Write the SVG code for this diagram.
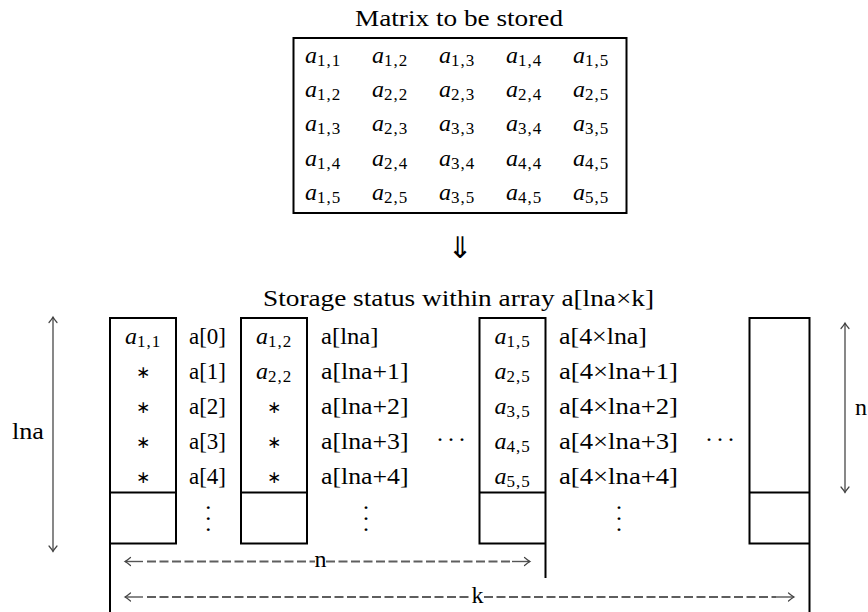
<svg xmlns="http://www.w3.org/2000/svg" width="868" height="612" viewBox="0 0 868 612">
  <defs>
    <style>
      text { font-family: "Liberation Serif", "DejaVu Serif", serif; font-size: 24px; fill: #000; }
      .mi { font-style: italic; }
      .sub { font-size: 17px; letter-spacing: 1px; }
      .mid { text-anchor: middle; }
      .arrowsym { font-family: "DejaVu Sans", sans-serif; font-size: 30px; }
      .ast { font-family: "DejaVu Sans", sans-serif; font-size: 17px; }
      .box { fill: none; stroke: #000; stroke-width: 2; }
      .edge { fill: none; stroke: #000; stroke-width: 2; }
      .dim { fill: none; stroke: #555; stroke-width: 1.4; }
      .dash { fill: none; stroke: #5e5e5e; stroke-width: 1.8; stroke-dasharray: 9 3.5; }
      .tip { fill: none; stroke: #444; stroke-width: 1.2; stroke-linecap: round; stroke-dasharray: none; }
    </style>
    <marker id="tip" markerUnits="userSpaceOnUse" markerWidth="12" markerHeight="12" viewBox="-7 -6 8 12" refX="0" refY="0" orient="auto-start-reverse" overflow="visible">
      <path class="tip" d="M -5.5 -4 Q -2 -1 0 0 Q -2 1 -5.5 4"/>
    </marker>
  </defs>

  <!-- Symmetric matrix -->
  <g id="matrix">
    <text class="mid" x="459" y="26" textLength="208" lengthAdjust="spacingAndGlyphs">Matrix to be stored</text>
    <rect class="box" x="293.5" y="38" width="333" height="175"/>
    <g id="matrix-row1">
      <text x="305" y="63"><tspan class="mi">a</tspan><tspan class="sub" dy="3">1,1</tspan></text>
      <text x="372" y="63"><tspan class="mi">a</tspan><tspan class="sub" dy="3">1,2</tspan></text>
      <text x="439" y="63"><tspan class="mi">a</tspan><tspan class="sub" dy="3">1,3</tspan></text>
      <text x="506" y="63"><tspan class="mi">a</tspan><tspan class="sub" dy="3">1,4</tspan></text>
      <text x="573" y="63"><tspan class="mi">a</tspan><tspan class="sub" dy="3">1,5</tspan></text>
    </g>
    <g id="matrix-row2">
      <text x="305" y="97.2"><tspan class="mi">a</tspan><tspan class="sub" dy="3">1,2</tspan></text>
      <text x="372" y="97.2"><tspan class="mi">a</tspan><tspan class="sub" dy="3">2,2</tspan></text>
      <text x="439" y="97.2"><tspan class="mi">a</tspan><tspan class="sub" dy="3">2,3</tspan></text>
      <text x="506" y="97.2"><tspan class="mi">a</tspan><tspan class="sub" dy="3">2,4</tspan></text>
      <text x="573" y="97.2"><tspan class="mi">a</tspan><tspan class="sub" dy="3">2,5</tspan></text>
    </g>
    <g id="matrix-row3">
      <text x="305" y="131.4"><tspan class="mi">a</tspan><tspan class="sub" dy="3">1,3</tspan></text>
      <text x="372" y="131.4"><tspan class="mi">a</tspan><tspan class="sub" dy="3">2,3</tspan></text>
      <text x="439" y="131.4"><tspan class="mi">a</tspan><tspan class="sub" dy="3">3,3</tspan></text>
      <text x="506" y="131.4"><tspan class="mi">a</tspan><tspan class="sub" dy="3">3,4</tspan></text>
      <text x="573" y="131.4"><tspan class="mi">a</tspan><tspan class="sub" dy="3">3,5</tspan></text>
    </g>
    <g id="matrix-row4">
      <text x="305" y="165.6"><tspan class="mi">a</tspan><tspan class="sub" dy="3">1,4</tspan></text>
      <text x="372" y="165.6"><tspan class="mi">a</tspan><tspan class="sub" dy="3">2,4</tspan></text>
      <text x="439" y="165.6"><tspan class="mi">a</tspan><tspan class="sub" dy="3">3,4</tspan></text>
      <text x="506" y="165.6"><tspan class="mi">a</tspan><tspan class="sub" dy="3">4,4</tspan></text>
      <text x="573" y="165.6"><tspan class="mi">a</tspan><tspan class="sub" dy="3">4,5</tspan></text>
    </g>
    <g id="matrix-row5">
      <text x="305" y="199.8"><tspan class="mi">a</tspan><tspan class="sub" dy="3">1,5</tspan></text>
      <text x="372" y="199.8"><tspan class="mi">a</tspan><tspan class="sub" dy="3">2,5</tspan></text>
      <text x="439" y="199.8"><tspan class="mi">a</tspan><tspan class="sub" dy="3">3,5</tspan></text>
      <text x="506" y="199.8"><tspan class="mi">a</tspan><tspan class="sub" dy="3">4,5</tspan></text>
      <text x="573" y="199.8"><tspan class="mi">a</tspan><tspan class="sub" dy="3">5,5</tspan></text>
    </g>
  </g>

  <!-- Double arrow between the two parts -->
  <g id="implies">
    <text class="mid arrowsym" x="460" y="258">⇓</text>
  </g>

  <g id="storage-title">
    <text class="mid" x="458.5" y="306" textLength="391" lengthAdjust="spacingAndGlyphs">Storage status within array a[lna×k]</text>
  </g>

  <!-- Column 1 -->
  <g id="column1">
    <path class="edge" d="M110 318 H176 V543.5 H110 Z M110 492.5 H176 M110 543.5 V612"/>
    <text class="mid" x="143" y="343.5"><tspan class="mi">a</tspan><tspan class="sub" dy="3">1,1</tspan></text>
    <text class="mid ast" x="143" y="377.5">∗</text>
    <text class="mid ast" x="143" y="412.5">∗</text>
    <text class="mid ast" x="143" y="447.5">∗</text>
    <text class="mid ast" x="143" y="482.5">∗</text>
  </g>
  <g id="column1-index">
    <text x="189" y="343.5" textLength="37" lengthAdjust="spacingAndGlyphs">a[0]</text>
    <text x="189" y="378.5" textLength="37" lengthAdjust="spacingAndGlyphs">a[1]</text>
    <text x="189" y="413.5" textLength="37" lengthAdjust="spacingAndGlyphs">a[2]</text>
    <text x="189" y="448.5" textLength="37" lengthAdjust="spacingAndGlyphs">a[3]</text>
    <text x="189" y="483.5" textLength="37" lengthAdjust="spacingAndGlyphs">a[4]</text>
    <text class="mid" x="208.3 208.3 208.3" y="515 526 537">···</text>
  </g>

  <!-- Column 2 -->
  <g id="column2">
    <path class="edge" d="M241 318 H307 V543.5 H241 Z M241 492.5 H307"/>
    <text class="mid" x="274" y="343.5"><tspan class="mi">a</tspan><tspan class="sub" dy="3">1,2</tspan></text>
    <text class="mid" x="274" y="378.5"><tspan class="mi">a</tspan><tspan class="sub" dy="3">2,2</tspan></text>
    <text class="mid ast" x="274" y="412.5">∗</text>
    <text class="mid ast" x="274" y="447.5">∗</text>
    <text class="mid ast" x="274" y="482.5">∗</text>
  </g>
  <g id="column2-index">
    <text x="321" y="343.5" textLength="57.5" lengthAdjust="spacingAndGlyphs">a[lna]</text>
    <text x="321" y="378.5" textLength="87.5" lengthAdjust="spacingAndGlyphs">a[lna+1]</text>
    <text x="321" y="413.5" textLength="87.5" lengthAdjust="spacingAndGlyphs">a[lna+2]</text>
    <text x="321" y="448.5" textLength="87.5" lengthAdjust="spacingAndGlyphs">a[lna+3]</text>
    <text x="321" y="483.5" textLength="87.5" lengthAdjust="spacingAndGlyphs">a[lna+4]</text>
    <text class="mid" x="366 366 366" y="515 526 537">···</text>
  </g>

  <g id="gap1">
    <text class="mid" x="440 451 462" y="447">···</text>
  </g>

  <!-- Column 5 -->
  <g id="column5">
    <path class="edge" d="M479.5 318 H545.5 V543.5 H479.5 Z M479.5 492.5 H545.5 M545.5 543.5 V578"/>
    <text class="mid" x="512.5" y="343.5"><tspan class="mi">a</tspan><tspan class="sub" dy="3">1,5</tspan></text>
    <text class="mid" x="512.5" y="378.5"><tspan class="mi">a</tspan><tspan class="sub" dy="3">2,5</tspan></text>
    <text class="mid" x="512.5" y="413.5"><tspan class="mi">a</tspan><tspan class="sub" dy="3">3,5</tspan></text>
    <text class="mid" x="512.5" y="448.5"><tspan class="mi">a</tspan><tspan class="sub" dy="3">4,5</tspan></text>
    <text class="mid" x="512.5" y="483.5"><tspan class="mi">a</tspan><tspan class="sub" dy="3">5,5</tspan></text>
  </g>
  <g id="column5-index">
    <text x="559" y="343.5" textLength="88" lengthAdjust="spacingAndGlyphs">a[4×lna]</text>
    <text x="559" y="378.5" textLength="119" lengthAdjust="spacingAndGlyphs">a[4×lna+1]</text>
    <text x="559" y="413.5" textLength="119" lengthAdjust="spacingAndGlyphs">a[4×lna+2]</text>
    <text x="559" y="448.5" textLength="119" lengthAdjust="spacingAndGlyphs">a[4×lna+3]</text>
    <text x="559" y="483.5" textLength="119" lengthAdjust="spacingAndGlyphs">a[4×lna+4]</text>
    <text class="mid" x="619 619 619" y="515 526 537">···</text>
  </g>

  <g id="gap2">
    <text class="mid" x="709 720 731" y="447">···</text>
  </g>

  <!-- Last column -->
  <g id="column-k">
    <path class="edge" d="M749.5 318 H809.5 V543.5 H749.5 Z M749.5 492.5 H809.5 M809.5 543.5 V612"/>
  </g>

  <!-- Dimension arrows -->
  <g id="connectors">
    <path class="dim" d="M53 317 V551.5" marker-start="url(#tip)" marker-end="url(#tip)"/>
    <path class="dim" d="M845 323 V492.5" marker-start="url(#tip)" marker-end="url(#tip)"/>
    <path class="dim" d="M125 561.5 H143" marker-start="url(#tip)"/>
    <path class="dash" d="M147 561.5 H315"/>
    <path class="dash" d="M326 561.5 H512"/>
    <path class="dim" d="M512 561.5 H530" marker-end="url(#tip)"/>
    <path class="dim" d="M125 597 H143" marker-start="url(#tip)"/>
    <path class="dash" d="M147 597 H471"/>
    <path class="dash" d="M484 597 H776"/>
    <path class="dim" d="M776 597 H794" marker-end="url(#tip)"/>
  </g>

  <g id="labels">
    <text x="12" y="439" textLength="32" lengthAdjust="spacingAndGlyphs">lna</text>
    <text x="855" y="415">n</text>
    <text class="mid" x="320.5" y="567">n</text>
    <text class="mid" x="477.5" y="602.5">k</text>
  </g>
</svg>
